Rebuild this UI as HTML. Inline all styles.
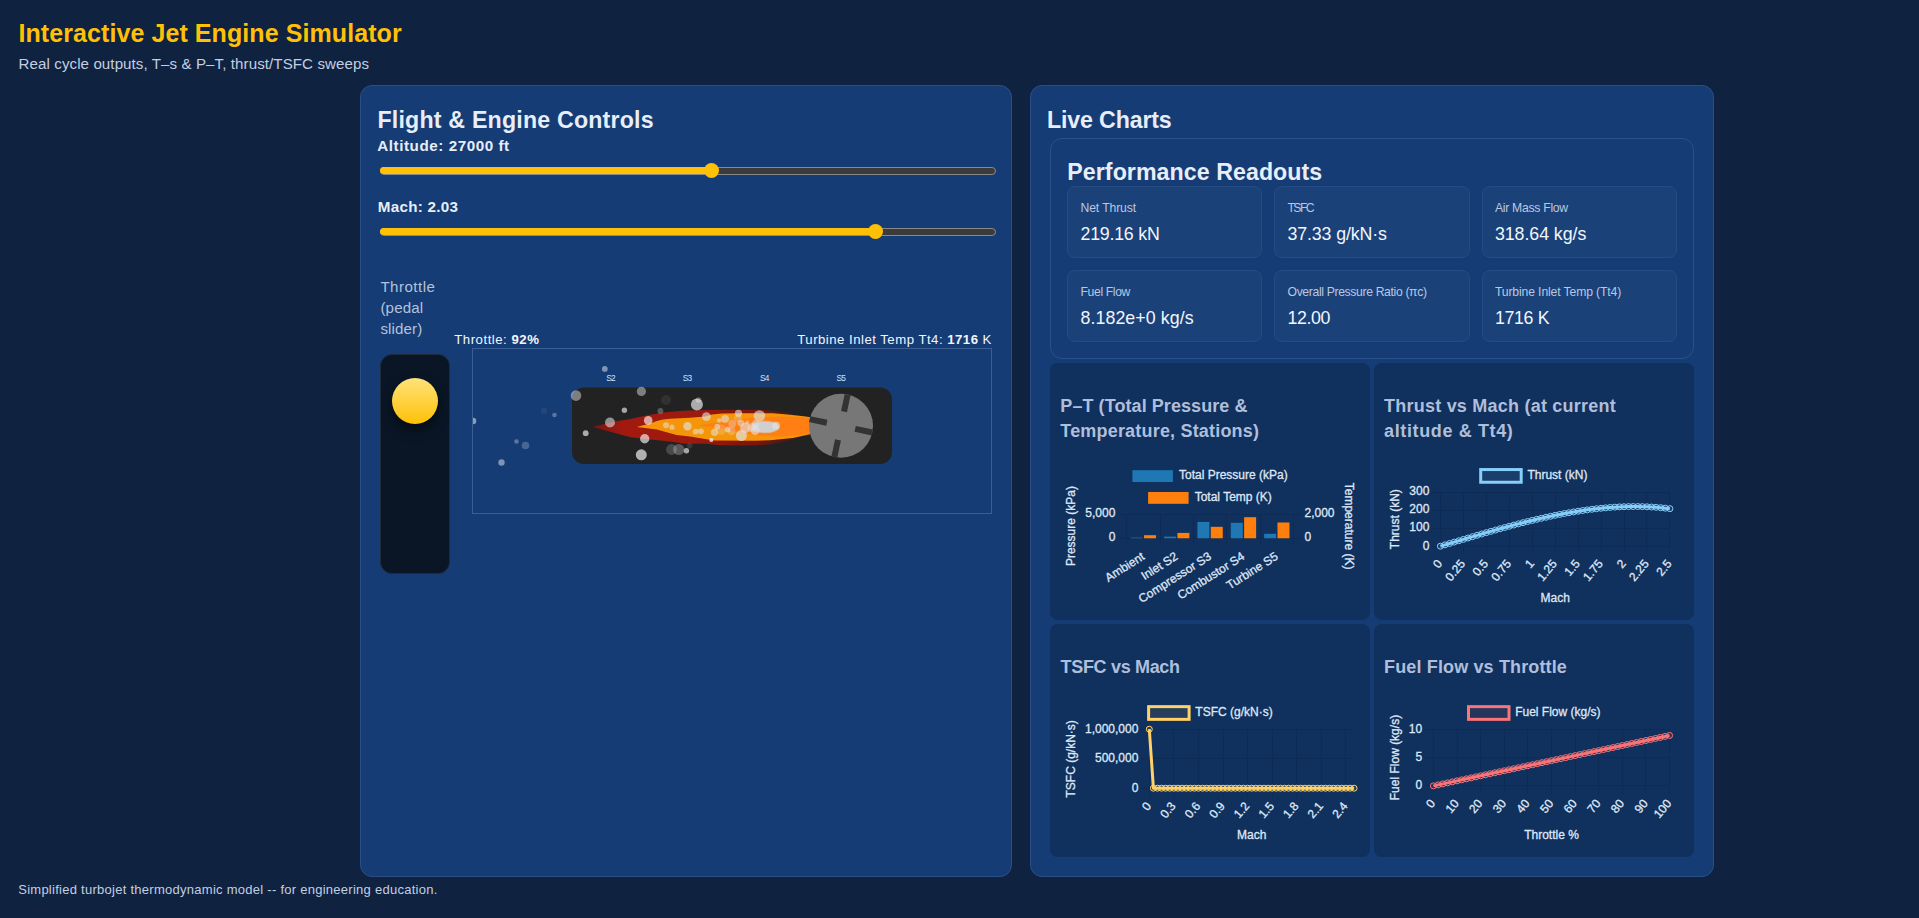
<!DOCTYPE html>
<html lang="en"><head><meta charset="utf-8"><title>Interactive Jet Engine Simulator</title>
<style>
html,body{margin:0;padding:0}
body{width:1919px;height:918px;overflow:hidden;background:#0f2240;font-family:"Liberation Sans", sans-serif;position:relative}
.b{position:absolute;box-sizing:border-box}
.t{position:absolute;white-space:nowrap;line-height:1}
.t b{font-weight:700}
.ov{position:absolute;left:0;top:0}
</style></head><body>
<div class="b" style="left:360.00px;top:85.00px;width:652.00px;height:792.00px;background:#153c75;border:1px solid #2a4f87;border-radius:12px;"></div><div class="b" style="left:1030.00px;top:85.00px;width:684.00px;height:792.00px;background:#153c75;border:1px solid #2a4f87;border-radius:12px;"></div><div class="b" style="left:1050.00px;top:137.50px;width:644.00px;height:221.00px;border:1px solid #2b5088;border-radius:12px;background:#153c75;"></div><div class="b" style="left:1067.00px;top:186.00px;width:195.33px;height:72.00px;background:#1b4179;border:1px solid #274c84;border-radius:8px;"></div><div class="b" style="left:1067.00px;top:270.00px;width:195.33px;height:72.00px;background:#1b4179;border:1px solid #274c84;border-radius:8px;"></div><div class="b" style="left:1274.33px;top:186.00px;width:195.34px;height:72.00px;background:#1b4179;border:1px solid #274c84;border-radius:8px;"></div><div class="b" style="left:1274.33px;top:270.00px;width:195.34px;height:72.00px;background:#1b4179;border:1px solid #274c84;border-radius:8px;"></div><div class="b" style="left:1481.67px;top:186.00px;width:195.33px;height:72.00px;background:#1b4179;border:1px solid #274c84;border-radius:8px;"></div><div class="b" style="left:1481.67px;top:270.00px;width:195.33px;height:72.00px;background:#1b4179;border:1px solid #274c84;border-radius:8px;"></div><div class="b" style="left:1050.00px;top:363.00px;width:319.70px;height:256.70px;background:#10305d;border-radius:8px;"></div><div class="b" style="left:1050.00px;top:624.10px;width:319.70px;height:232.70px;background:#10305d;border-radius:8px;"></div><div class="b" style="left:1374.10px;top:363.00px;width:319.80px;height:256.70px;background:#10305d;border-radius:8px;"></div><div class="b" style="left:1374.10px;top:624.10px;width:319.80px;height:232.70px;background:#10305d;border-radius:8px;"></div><div class="b" style="left:380.20px;top:166.80px;width:615.80px;height:8.00px;background:#3b3b3b;border:1px solid #8a8a8a;border-radius:4px;"></div><div class="b" style="left:380.20px;top:167.30px;width:331.40px;height:7.00px;background:#ffc107;border-radius:4px;"></div><div class="b" style="left:704.10px;top:163.30px;width:15.00px;height:15.00px;background:#ffc107;border-radius:50%;"></div><div class="b" style="left:380.20px;top:227.80px;width:615.80px;height:8.00px;background:#3b3b3b;border:1px solid #8a8a8a;border-radius:4px;"></div><div class="b" style="left:380.20px;top:228.30px;width:495.40px;height:7.00px;background:#ffc107;border-radius:4px;"></div><div class="b" style="left:868.10px;top:224.30px;width:15.00px;height:15.00px;background:#ffc107;border-radius:50%;"></div><div class="b" style="left:380.00px;top:354.00px;width:70.00px;height:220.00px;background:#0a1626;border:1px solid #202a38;border-radius:12px;"></div><div class="b" style="left:392.00px;top:378.00px;width:46.40px;height:46.40px;background:linear-gradient(#ffe27a,#ffc107);border-radius:50%;box-shadow:0 6px 12px rgba(0,0,0,.5);"></div><div class="b" style="left:472.00px;top:348.00px;width:520.00px;height:166.00px;border:1px solid #3b5f94;"></div>
<svg class="ov" width="1919" height="918" viewBox="0 0 1919 918"><rect x="572" y="387.6" width="320" height="76.4" rx="12" fill="#222"/><defs><linearGradient id="fo" x1="592" x2="800" y1="0" y2="0" gradientUnits="userSpaceOnUse"><stop offset="0" stop-color="#7a1414"/><stop offset=".15" stop-color="#a3190f"/><stop offset=".5" stop-color="#9c1a0e"/><stop offset=".78" stop-color="#7d140c"/><stop offset="1" stop-color="#3a1a18"/></linearGradient></defs><path d="M592.8,426.7 L604,424.3 L617.7,421.1 L630.8,418.9 L643.8,415.9 L663.4,412.6 L683,410.7 L705,410 L730,409.7 L755,409.7 L770,410.5 L785,412.5 L797,415 L797,438.5 L785,441.5 L767,444.8 L745,445.4 L720,445.3 L705,443.7 L683,443.4 L670,441.4 L650.4,439.4 L630.8,437.2 L604.6,430.3 Z" fill="url(#fo)"/><path d="M636.6,427 L650,423.5 L656.9,421.1 L663,419.5 L670,418.8 L690,417.8 L705,416.5 L712,414.5 L722,413.4 L740,413.2 L773,413.3 L790,414.8 L806,416.6 L810,417.2 L810,434.2 L793,438 L770,440.2 L755,440.75 L715,440.5 L705,439 L690,436.5 L676.5,434.9 L656.9,429.6 L645,428 Z" fill="#f5960a"/><path d="M697,425.4 L715,423 L734,419.8 L755,417.5 L780,416.6 L806,417.2 L810,417.5 L810,434 L806,434.2 L780,436.8 L760,435.5 L734,431.6 L715,427.2 Z" fill="#ff7f14"/><circle cx="841" cy="425.8" r="32" fill="#777"/><rect x="14.5" y="-3" width="17.5" height="6" fill="#333" transform="translate(841,425.8) rotate(12)"/><rect x="14.5" y="-3" width="17.5" height="6" fill="#333" transform="translate(841,425.8) rotate(102)"/><rect x="14.5" y="-3" width="17.5" height="6" fill="#333" transform="translate(841,425.8) rotate(192)"/><rect x="14.5" y="-3" width="17.5" height="6" fill="#333" transform="translate(841,425.8) rotate(282)"/><path d="M473,417.7 A3.3,3.3 0 0 1 473,424.3 Z" fill="#fff" fill-opacity=".5"/><circle cx="604.8" cy="368.9" r="2.9" fill="#fff" fill-opacity="0.45"/><circle cx="576" cy="395.6" r="5.3" fill="#fff" fill-opacity="0.42"/><circle cx="641.4" cy="391.4" r="4.6" fill="#fff" fill-opacity="0.42"/><circle cx="666" cy="400" r="5" fill="#fff" fill-opacity="0.07"/><circle cx="696.9" cy="404.4" r="6" fill="#fff" fill-opacity="0.62"/><circle cx="698.5" cy="400" r="2.8" fill="#fff" fill-opacity="0.3"/><circle cx="624.4" cy="410.2" r="2.7" fill="#fff" fill-opacity="0.6"/><circle cx="660.4" cy="411" r="2.9" fill="#fff" fill-opacity="0.25"/><circle cx="610" cy="422.5" r="5" fill="#fff" fill-opacity="0.5"/><circle cx="648.2" cy="420.4" r="4.3" fill="#fff" fill-opacity="0.62"/><circle cx="585.7" cy="433.2" r="2.9" fill="#fff" fill-opacity="0.62"/><circle cx="644.7" cy="438.8" r="4.7" fill="#fff" fill-opacity="0.62"/><circle cx="641.3" cy="454.8" r="5.5" fill="#fff" fill-opacity="0.65"/><circle cx="671.5" cy="449.5" r="5.4" fill="#fff" fill-opacity="0.18"/><circle cx="678.7" cy="449.5" r="5.6" fill="#fff" fill-opacity="0.25"/><circle cx="686.4" cy="450.7" r="2.7" fill="#fff" fill-opacity="0.6"/><circle cx="689.7" cy="445.6" r="2.8" fill="#fff" fill-opacity="0.1"/><circle cx="711.4" cy="440" r="2" fill="#fff" fill-opacity="0.5"/><circle cx="544" cy="411" r="3.3" fill="#fff" fill-opacity="0.06"/><circle cx="554.5" cy="415" r="2.3" fill="#fff" fill-opacity="0.3"/><circle cx="516.5" cy="441.5" r="2.3" fill="#fff" fill-opacity="0.3"/><circle cx="525.5" cy="445.5" r="3.8" fill="#fff" fill-opacity="0.22"/><circle cx="501.5" cy="462.5" r="3.2" fill="#fff" fill-opacity="0.45"/><ellipse cx="765" cy="427" rx="14.4" ry="6.3" fill="#d0cbc6" fill-opacity=".7"/><ellipse cx="765.5" cy="427" rx="12.5" ry="5.3" fill="#cfcfcf"/><circle cx="666" cy="425.3" r="3.0" fill="#e2e2e2" fill-opacity="0.53"/><circle cx="672" cy="427.2" r="2.6" fill="#e2e2e2" fill-opacity="0.53"/><circle cx="687.5" cy="426.3" r="4.2" fill="#e2e2e2" fill-opacity="0.62"/><circle cx="695.7" cy="431.6" r="2.9" fill="#e2e2e2" fill-opacity="0.56"/><circle cx="700.9" cy="431.3" r="2.9" fill="#e2e2e2" fill-opacity="0.56"/><circle cx="706.4" cy="416.6" r="4.4" fill="#e2e2e2" fill-opacity="0.62"/><circle cx="725.1" cy="418.9" r="3.9" fill="#e2e2e2" fill-opacity="0.56"/><circle cx="719.2" cy="420.5" r="2.3" fill="#e2e2e2" fill-opacity="0.56"/><circle cx="738.5" cy="413.3" r="3.6" fill="#e2e2e2" fill-opacity="0.62"/><circle cx="759.4" cy="415.9" r="5.75" fill="#e2e2e2" fill-opacity="0.62"/><circle cx="717.2" cy="426.7" r="2.9" fill="#e2e2e2" fill-opacity="0.56"/><circle cx="714.6" cy="432.3" r="3.6" fill="#e2e2e2" fill-opacity="0.56"/><circle cx="727.7" cy="429.6" r="2.9" fill="#e2e2e2" fill-opacity="0.62"/><circle cx="741.4" cy="435.5" r="5.5" fill="#e2e2e2" fill-opacity="0.69"/><circle cx="732.3" cy="423.8" r="3.9" fill="#e2e2e2" fill-opacity="0.35"/><circle cx="721" cy="429.6" r="5.2" fill="#e2e2e2" fill-opacity="0.22"/><circle cx="731.6" cy="431" r="3.9" fill="#e2e2e2" fill-opacity="0.28"/><circle cx="740.8" cy="423.1" r="3.3" fill="#e2e2e2" fill-opacity="0.50"/><circle cx="738" cy="418.5" r="4" fill="#e2e2e2" fill-opacity="0.22"/><circle cx="745.3" cy="427.7" r="5.2" fill="#e2e2e2" fill-opacity="0.62"/><circle cx="747.3" cy="422.5" r="2" fill="#e2e2e2" fill-opacity="0.50"/><circle cx="755.1" cy="430.3" r="4.6" fill="#e2e2e2" fill-opacity="0.62"/><circle cx="755.8" cy="423.8" r="3.9" fill="#e2e2e2" fill-opacity="0.50"/><circle cx="776" cy="425.7" r="3.9" fill="#e2e2e2" fill-opacity="0.62"/><circle cx="711.3" cy="440.1" r="2" fill="#e2e2e2" fill-opacity="0.62"/><circle cx="752" cy="427.5" r="4.5" fill="#e2e2e2" fill-opacity="0.50"/></svg>
<svg class="ov" width="1919" height="918" viewBox="0 0 1919 918" font-family='"Liberation Sans", sans-serif' fill="#dfe7f6"><style>text{stroke:#dfe7f6;stroke-width:.3px;paint-order:stroke}</style><g stroke="#0e2b55" stroke-width="1" shape-rendering="crispEdges"><line x1="1126.70" y1="514.30" x2="1126.70" y2="545.60"/><line x1="1160.06" y1="514.30" x2="1160.06" y2="545.60"/><line x1="1193.42" y1="514.30" x2="1193.42" y2="545.60"/><line x1="1226.78" y1="514.30" x2="1226.78" y2="545.60"/><line x1="1260.14" y1="514.30" x2="1260.14" y2="545.60"/><line x1="1293.50" y1="514.30" x2="1293.50" y2="545.60"/><line x1="1119.70" y1="514.30" x2="1300.50" y2="514.30"/><line x1="1119.70" y1="538.30" x2="1300.50" y2="538.30"/></g><rect x="1130.70" y="537.6" width="12" height="0.70" fill="#1f77b4"/><rect x="1144.05" y="535.2" width="12" height="3.10" fill="#ff7f0e"/><rect x="1164.06" y="536.6" width="12" height="1.70" fill="#1f77b4"/><rect x="1177.41" y="532.9" width="12" height="5.40" fill="#ff7f0e"/><rect x="1197.42" y="521.9" width="12" height="16.40" fill="#1f77b4"/><rect x="1210.77" y="526.8" width="12" height="11.50" fill="#ff7f0e"/><rect x="1230.78" y="522.8" width="12" height="15.50" fill="#1f77b4"/><rect x="1244.13" y="517.2" width="12" height="21.10" fill="#ff7f0e"/><rect x="1264.14" y="533.8" width="12" height="4.50" fill="#1f77b4"/><rect x="1277.49" y="522.5" width="12" height="15.80" fill="#ff7f0e"/><rect x="1132.4" y="470.2" width="40.5" height="11.8" fill="#1f77b4"/><rect x="1148.1" y="492" width="40.5" height="11.8" fill="#ff7f0e"/><text x="1179.00" y="479.10" text-anchor="start" font-size="12" >Total Pressure (kPa)</text><text x="1194.70" y="501.30" text-anchor="start" font-size="12" >Total Temp (K)</text><text x="1115.40" y="517.40" text-anchor="end" font-size="12" >5,000</text><text x="1115.40" y="541.40" text-anchor="end" font-size="12" >0</text><text x="1304.50" y="517.40" text-anchor="start" font-size="12" >2,000</text><text x="1304.50" y="541.40" text-anchor="start" font-size="12" >0</text><text transform="translate(1075.10,526.10) rotate(-90)" text-anchor="middle" font-size="12" >Pressure (kPa)</text><text transform="translate(1345.20,526.10) rotate(90)" text-anchor="middle" font-size="12" >Temperature (K)</text><text transform="translate(1145.38,558.50) rotate(-32.5)" text-anchor="end" font-size="12" >Ambient</text><text transform="translate(1178.74,558.50) rotate(-32.5)" text-anchor="end" font-size="12" >Inlet S2</text><text transform="translate(1212.10,558.50) rotate(-32.5)" text-anchor="end" font-size="12" >Compressor S3</text><text transform="translate(1245.46,558.50) rotate(-32.5)" text-anchor="end" font-size="12" >Combustor S4</text><text transform="translate(1278.82,558.50) rotate(-32.5)" text-anchor="end" font-size="12" >Turbine S5</text><g stroke="#0e2b55" stroke-width="1" shape-rendering="crispEdges"><line x1="1440.40" y1="492.10" x2="1440.40" y2="554.20"/><line x1="1463.35" y1="492.10" x2="1463.35" y2="554.20"/><line x1="1486.30" y1="492.10" x2="1486.30" y2="554.20"/><line x1="1509.25" y1="492.10" x2="1509.25" y2="554.20"/><line x1="1532.20" y1="492.10" x2="1532.20" y2="554.20"/><line x1="1555.15" y1="492.10" x2="1555.15" y2="554.20"/><line x1="1578.10" y1="492.10" x2="1578.10" y2="554.20"/><line x1="1601.05" y1="492.10" x2="1601.05" y2="554.20"/><line x1="1624.00" y1="492.10" x2="1624.00" y2="554.20"/><line x1="1646.95" y1="492.10" x2="1646.95" y2="554.20"/><line x1="1669.90" y1="492.10" x2="1669.90" y2="554.20"/><line x1="1432.40" y1="546.20" x2="1669.90" y2="546.20"/><line x1="1432.40" y1="528.17" x2="1669.90" y2="528.17"/><line x1="1432.40" y1="510.13" x2="1669.90" y2="510.13"/><line x1="1432.40" y1="492.10" x2="1669.90" y2="492.10"/></g><path d="M1440.40,546.20 L1444.99,544.84 L1449.58,543.47 L1454.17,542.10 L1458.76,540.74 L1463.35,539.38 L1467.94,538.02 L1472.53,536.66 L1477.12,535.32 L1481.71,533.98 L1486.30,532.66 L1490.89,531.35 L1495.48,530.05 L1500.07,528.77 L1504.66,527.51 L1509.25,526.27 L1513.84,525.05 L1518.43,523.85 L1523.02,522.68 L1527.61,521.53 L1532.20,520.42 L1536.79,519.33 L1541.38,518.28 L1545.97,517.26 L1550.56,516.27 L1555.15,515.32 L1559.74,514.41 L1564.33,513.54 L1568.92,512.72 L1573.51,511.93 L1578.10,511.20 L1582.69,510.51 L1587.28,509.86 L1591.87,509.27 L1596.46,508.74 L1601.05,508.25 L1605.64,507.83 L1610.23,507.46 L1614.82,507.15 L1619.41,506.90 L1624.00,506.71 L1628.59,506.59 L1633.18,506.54 L1637.77,506.55 L1642.36,506.64 L1646.95,506.79 L1651.54,507.02 L1656.13,507.32 L1660.72,507.70 L1665.31,508.16 L1669.90,508.70" fill="none" stroke="#87cefa" stroke-width="3" stroke-linejoin="round"/><g fill="rgba(135,206,250,0.09)" stroke="#87cefa" stroke-width="1"><circle cx="1440.40" cy="546.20" r="3"/><circle cx="1444.99" cy="544.84" r="3"/><circle cx="1449.58" cy="543.47" r="3"/><circle cx="1454.17" cy="542.10" r="3"/><circle cx="1458.76" cy="540.74" r="3"/><circle cx="1463.35" cy="539.38" r="3"/><circle cx="1467.94" cy="538.02" r="3"/><circle cx="1472.53" cy="536.66" r="3"/><circle cx="1477.12" cy="535.32" r="3"/><circle cx="1481.71" cy="533.98" r="3"/><circle cx="1486.30" cy="532.66" r="3"/><circle cx="1490.89" cy="531.35" r="3"/><circle cx="1495.48" cy="530.05" r="3"/><circle cx="1500.07" cy="528.77" r="3"/><circle cx="1504.66" cy="527.51" r="3"/><circle cx="1509.25" cy="526.27" r="3"/><circle cx="1513.84" cy="525.05" r="3"/><circle cx="1518.43" cy="523.85" r="3"/><circle cx="1523.02" cy="522.68" r="3"/><circle cx="1527.61" cy="521.53" r="3"/><circle cx="1532.20" cy="520.42" r="3"/><circle cx="1536.79" cy="519.33" r="3"/><circle cx="1541.38" cy="518.28" r="3"/><circle cx="1545.97" cy="517.26" r="3"/><circle cx="1550.56" cy="516.27" r="3"/><circle cx="1555.15" cy="515.32" r="3"/><circle cx="1559.74" cy="514.41" r="3"/><circle cx="1564.33" cy="513.54" r="3"/><circle cx="1568.92" cy="512.72" r="3"/><circle cx="1573.51" cy="511.93" r="3"/><circle cx="1578.10" cy="511.20" r="3"/><circle cx="1582.69" cy="510.51" r="3"/><circle cx="1587.28" cy="509.86" r="3"/><circle cx="1591.87" cy="509.27" r="3"/><circle cx="1596.46" cy="508.74" r="3"/><circle cx="1601.05" cy="508.25" r="3"/><circle cx="1605.64" cy="507.83" r="3"/><circle cx="1610.23" cy="507.46" r="3"/><circle cx="1614.82" cy="507.15" r="3"/><circle cx="1619.41" cy="506.90" r="3"/><circle cx="1624.00" cy="506.71" r="3"/><circle cx="1628.59" cy="506.59" r="3"/><circle cx="1633.18" cy="506.54" r="3"/><circle cx="1637.77" cy="506.55" r="3"/><circle cx="1642.36" cy="506.64" r="3"/><circle cx="1646.95" cy="506.79" r="3"/><circle cx="1651.54" cy="507.02" r="3"/><circle cx="1656.13" cy="507.32" r="3"/><circle cx="1660.72" cy="507.70" r="3"/><circle cx="1665.31" cy="508.16" r="3"/><circle cx="1669.90" cy="508.70" r="3"/></g><rect x="1480.70" y="469.55" width="40.5" height="12.7" fill="rgba(135,206,250,0.09)" stroke="#87cefa" stroke-width="3"/><text x="1527.40" y="479.00" text-anchor="start" font-size="12" >Thrust (kN)</text><text x="1429.40" y="549.50" text-anchor="end" font-size="12" >0</text><text x="1429.40" y="531.47" text-anchor="end" font-size="12" >100</text><text x="1429.40" y="513.43" text-anchor="end" font-size="12" >200</text><text x="1429.40" y="495.40" text-anchor="end" font-size="12" >300</text><text transform="translate(1442.90,564.00) rotate(-50)" text-anchor="end" font-size="12" >0</text><text transform="translate(1465.85,564.00) rotate(-50)" text-anchor="end" font-size="12" >0.25</text><text transform="translate(1488.80,564.00) rotate(-50)" text-anchor="end" font-size="12" >0.5</text><text transform="translate(1511.75,564.00) rotate(-50)" text-anchor="end" font-size="12" >0.75</text><text transform="translate(1534.70,564.00) rotate(-50)" text-anchor="end" font-size="12" >1</text><text transform="translate(1557.65,564.00) rotate(-50)" text-anchor="end" font-size="12" >1.25</text><text transform="translate(1580.60,564.00) rotate(-50)" text-anchor="end" font-size="12" >1.5</text><text transform="translate(1603.55,564.00) rotate(-50)" text-anchor="end" font-size="12" >1.75</text><text transform="translate(1626.50,564.00) rotate(-50)" text-anchor="end" font-size="12" >2</text><text transform="translate(1649.45,564.00) rotate(-50)" text-anchor="end" font-size="12" >2.25</text><text transform="translate(1672.40,564.00) rotate(-50)" text-anchor="end" font-size="12" >2.5</text><text transform="translate(1398.70,519.15) rotate(-90)" text-anchor="middle" font-size="12" >Thrust (kN)</text><text x="1555.15" y="601.80" text-anchor="middle" font-size="12" >Mach</text><g stroke="#0e2b55" stroke-width="1" shape-rendering="crispEdges"><line x1="1149.30" y1="729.20" x2="1149.30" y2="796.50"/><line x1="1173.88" y1="729.20" x2="1173.88" y2="796.50"/><line x1="1198.45" y1="729.20" x2="1198.45" y2="796.50"/><line x1="1223.03" y1="729.20" x2="1223.03" y2="796.50"/><line x1="1247.60" y1="729.20" x2="1247.60" y2="796.50"/><line x1="1272.18" y1="729.20" x2="1272.18" y2="796.50"/><line x1="1296.76" y1="729.20" x2="1296.76" y2="796.50"/><line x1="1321.33" y1="729.20" x2="1321.33" y2="796.50"/><line x1="1345.91" y1="729.20" x2="1345.91" y2="796.50"/><line x1="1141.30" y1="788.50" x2="1354.10" y2="788.50"/><line x1="1141.30" y1="758.85" x2="1354.10" y2="758.85"/><line x1="1141.30" y1="729.20" x2="1354.10" y2="729.20"/></g><path d="M1149.30,729.20 L1153.40,788.20 L1157.49,788.20 L1161.59,788.20 L1165.68,788.20 L1169.78,788.20 L1173.88,788.20 L1177.97,788.20 L1182.07,788.20 L1186.16,788.20 L1190.26,788.20 L1194.36,788.20 L1198.45,788.20 L1202.55,788.20 L1206.64,788.20 L1210.74,788.20 L1214.84,788.20 L1218.93,788.20 L1223.03,788.20 L1227.12,788.20 L1231.22,788.20 L1235.32,788.20 L1239.41,788.20 L1243.51,788.20 L1247.60,788.20 L1251.70,788.20 L1255.80,788.20 L1259.89,788.20 L1263.99,788.20 L1268.08,788.20 L1272.18,788.20 L1276.28,788.20 L1280.37,788.20 L1284.47,788.20 L1288.56,788.20 L1292.66,788.20 L1296.76,788.20 L1300.85,788.20 L1304.95,788.20 L1309.04,788.20 L1313.14,788.20 L1317.24,788.20 L1321.33,788.20 L1325.43,788.20 L1329.52,788.20 L1333.62,788.20 L1337.72,788.20 L1341.81,788.20 L1345.91,788.20 L1350.00,788.20 L1354.10,788.20" fill="none" stroke="#ffd166" stroke-width="3" stroke-linejoin="round"/><g fill="rgba(255,209,102,0.09)" stroke="#ffd166" stroke-width="1"><circle cx="1149.30" cy="729.20" r="3"/><circle cx="1153.40" cy="788.20" r="3"/><circle cx="1157.49" cy="788.20" r="3"/><circle cx="1161.59" cy="788.20" r="3"/><circle cx="1165.68" cy="788.20" r="3"/><circle cx="1169.78" cy="788.20" r="3"/><circle cx="1173.88" cy="788.20" r="3"/><circle cx="1177.97" cy="788.20" r="3"/><circle cx="1182.07" cy="788.20" r="3"/><circle cx="1186.16" cy="788.20" r="3"/><circle cx="1190.26" cy="788.20" r="3"/><circle cx="1194.36" cy="788.20" r="3"/><circle cx="1198.45" cy="788.20" r="3"/><circle cx="1202.55" cy="788.20" r="3"/><circle cx="1206.64" cy="788.20" r="3"/><circle cx="1210.74" cy="788.20" r="3"/><circle cx="1214.84" cy="788.20" r="3"/><circle cx="1218.93" cy="788.20" r="3"/><circle cx="1223.03" cy="788.20" r="3"/><circle cx="1227.12" cy="788.20" r="3"/><circle cx="1231.22" cy="788.20" r="3"/><circle cx="1235.32" cy="788.20" r="3"/><circle cx="1239.41" cy="788.20" r="3"/><circle cx="1243.51" cy="788.20" r="3"/><circle cx="1247.60" cy="788.20" r="3"/><circle cx="1251.70" cy="788.20" r="3"/><circle cx="1255.80" cy="788.20" r="3"/><circle cx="1259.89" cy="788.20" r="3"/><circle cx="1263.99" cy="788.20" r="3"/><circle cx="1268.08" cy="788.20" r="3"/><circle cx="1272.18" cy="788.20" r="3"/><circle cx="1276.28" cy="788.20" r="3"/><circle cx="1280.37" cy="788.20" r="3"/><circle cx="1284.47" cy="788.20" r="3"/><circle cx="1288.56" cy="788.20" r="3"/><circle cx="1292.66" cy="788.20" r="3"/><circle cx="1296.76" cy="788.20" r="3"/><circle cx="1300.85" cy="788.20" r="3"/><circle cx="1304.95" cy="788.20" r="3"/><circle cx="1309.04" cy="788.20" r="3"/><circle cx="1313.14" cy="788.20" r="3"/><circle cx="1317.24" cy="788.20" r="3"/><circle cx="1321.33" cy="788.20" r="3"/><circle cx="1325.43" cy="788.20" r="3"/><circle cx="1329.52" cy="788.20" r="3"/><circle cx="1333.62" cy="788.20" r="3"/><circle cx="1337.72" cy="788.20" r="3"/><circle cx="1341.81" cy="788.20" r="3"/><circle cx="1345.91" cy="788.20" r="3"/><circle cx="1350.00" cy="788.20" r="3"/><circle cx="1354.10" cy="788.20" r="3"/></g><rect x="1148.60" y="706.65" width="40.5" height="12.7" fill="rgba(255,209,102,0.09)" stroke="#ffd166" stroke-width="3"/><text x="1195.30" y="716.10" text-anchor="start" font-size="12" >TSFC (g/kN·s)</text><text x="1138.40" y="791.80" text-anchor="end" font-size="12" >0</text><text x="1138.40" y="762.15" text-anchor="end" font-size="12" >500,000</text><text x="1138.40" y="732.50" text-anchor="end" font-size="12" >1,000,000</text><text transform="translate(1151.80,806.30) rotate(-50)" text-anchor="end" font-size="12" >0</text><text transform="translate(1176.38,806.30) rotate(-50)" text-anchor="end" font-size="12" >0.3</text><text transform="translate(1200.95,806.30) rotate(-50)" text-anchor="end" font-size="12" >0.6</text><text transform="translate(1225.53,806.30) rotate(-50)" text-anchor="end" font-size="12" >0.9</text><text transform="translate(1250.10,806.30) rotate(-50)" text-anchor="end" font-size="12" >1.2</text><text transform="translate(1274.68,806.30) rotate(-50)" text-anchor="end" font-size="12" >1.5</text><text transform="translate(1299.26,806.30) rotate(-50)" text-anchor="end" font-size="12" >1.8</text><text transform="translate(1323.83,806.30) rotate(-50)" text-anchor="end" font-size="12" >2.1</text><text transform="translate(1348.41,806.30) rotate(-50)" text-anchor="end" font-size="12" >2.4</text><text transform="translate(1074.80,758.85) rotate(-90)" text-anchor="middle" font-size="12" >TSFC (g/kN·s)</text><text x="1251.70" y="838.90" text-anchor="middle" font-size="12" >Mach</text><g stroke="#0e2b55" stroke-width="1" shape-rendering="crispEdges"><line x1="1433.40" y1="729.20" x2="1433.40" y2="793.90"/><line x1="1457.02" y1="729.20" x2="1457.02" y2="793.90"/><line x1="1480.64" y1="729.20" x2="1480.64" y2="793.90"/><line x1="1504.26" y1="729.20" x2="1504.26" y2="793.90"/><line x1="1527.88" y1="729.20" x2="1527.88" y2="793.90"/><line x1="1551.50" y1="729.20" x2="1551.50" y2="793.90"/><line x1="1575.12" y1="729.20" x2="1575.12" y2="793.90"/><line x1="1598.74" y1="729.20" x2="1598.74" y2="793.90"/><line x1="1622.36" y1="729.20" x2="1622.36" y2="793.90"/><line x1="1645.98" y1="729.20" x2="1645.98" y2="793.90"/><line x1="1669.60" y1="729.20" x2="1669.60" y2="793.90"/><line x1="1425.40" y1="785.90" x2="1669.60" y2="785.90"/><line x1="1425.40" y1="757.55" x2="1669.60" y2="757.55"/><line x1="1425.40" y1="729.20" x2="1669.60" y2="729.20"/></g><path d="M1433.40,785.90 L1438.12,784.89 L1442.85,783.88 L1447.57,782.87 L1452.30,781.86 L1457.02,780.85 L1461.74,779.84 L1466.47,778.84 L1471.19,777.83 L1475.92,776.82 L1480.64,775.81 L1485.36,774.80 L1490.09,773.79 L1494.81,772.78 L1499.54,771.77 L1504.26,770.76 L1508.98,769.75 L1513.71,768.74 L1518.43,767.73 L1523.16,766.72 L1527.88,765.71 L1532.60,764.71 L1537.33,763.70 L1542.05,762.69 L1546.78,761.68 L1551.50,760.67 L1556.22,759.66 L1560.95,758.65 L1565.67,757.64 L1570.40,756.63 L1575.12,755.62 L1579.84,754.61 L1584.57,753.60 L1589.29,752.59 L1594.02,751.59 L1598.74,750.58 L1603.46,749.57 L1608.19,748.56 L1612.91,747.55 L1617.64,746.54 L1622.36,745.53 L1627.08,744.52 L1631.81,743.51 L1636.53,742.50 L1641.26,741.49 L1645.98,740.48 L1650.70,739.47 L1655.43,738.46 L1660.15,737.46 L1664.88,736.45 L1669.60,735.44" fill="none" stroke="#fb7476" stroke-width="3" stroke-linejoin="round"/><g fill="rgba(255,107,107,0.09)" stroke="#fb7476" stroke-width="1"><circle cx="1433.40" cy="785.90" r="3"/><circle cx="1438.12" cy="784.89" r="3"/><circle cx="1442.85" cy="783.88" r="3"/><circle cx="1447.57" cy="782.87" r="3"/><circle cx="1452.30" cy="781.86" r="3"/><circle cx="1457.02" cy="780.85" r="3"/><circle cx="1461.74" cy="779.84" r="3"/><circle cx="1466.47" cy="778.84" r="3"/><circle cx="1471.19" cy="777.83" r="3"/><circle cx="1475.92" cy="776.82" r="3"/><circle cx="1480.64" cy="775.81" r="3"/><circle cx="1485.36" cy="774.80" r="3"/><circle cx="1490.09" cy="773.79" r="3"/><circle cx="1494.81" cy="772.78" r="3"/><circle cx="1499.54" cy="771.77" r="3"/><circle cx="1504.26" cy="770.76" r="3"/><circle cx="1508.98" cy="769.75" r="3"/><circle cx="1513.71" cy="768.74" r="3"/><circle cx="1518.43" cy="767.73" r="3"/><circle cx="1523.16" cy="766.72" r="3"/><circle cx="1527.88" cy="765.71" r="3"/><circle cx="1532.60" cy="764.71" r="3"/><circle cx="1537.33" cy="763.70" r="3"/><circle cx="1542.05" cy="762.69" r="3"/><circle cx="1546.78" cy="761.68" r="3"/><circle cx="1551.50" cy="760.67" r="3"/><circle cx="1556.22" cy="759.66" r="3"/><circle cx="1560.95" cy="758.65" r="3"/><circle cx="1565.67" cy="757.64" r="3"/><circle cx="1570.40" cy="756.63" r="3"/><circle cx="1575.12" cy="755.62" r="3"/><circle cx="1579.84" cy="754.61" r="3"/><circle cx="1584.57" cy="753.60" r="3"/><circle cx="1589.29" cy="752.59" r="3"/><circle cx="1594.02" cy="751.59" r="3"/><circle cx="1598.74" cy="750.58" r="3"/><circle cx="1603.46" cy="749.57" r="3"/><circle cx="1608.19" cy="748.56" r="3"/><circle cx="1612.91" cy="747.55" r="3"/><circle cx="1617.64" cy="746.54" r="3"/><circle cx="1622.36" cy="745.53" r="3"/><circle cx="1627.08" cy="744.52" r="3"/><circle cx="1631.81" cy="743.51" r="3"/><circle cx="1636.53" cy="742.50" r="3"/><circle cx="1641.26" cy="741.49" r="3"/><circle cx="1645.98" cy="740.48" r="3"/><circle cx="1650.70" cy="739.47" r="3"/><circle cx="1655.43" cy="738.46" r="3"/><circle cx="1660.15" cy="737.46" r="3"/><circle cx="1664.88" cy="736.45" r="3"/><circle cx="1669.60" cy="735.44" r="3"/></g><rect x="1468.50" y="706.65" width="40.5" height="12.7" fill="rgba(255,107,107,0.09)" stroke="#fb7476" stroke-width="3"/><text x="1515.20" y="716.10" text-anchor="start" font-size="12" >Fuel Flow (kg/s)</text><text x="1422.10" y="789.20" text-anchor="end" font-size="12" >0</text><text x="1422.10" y="760.85" text-anchor="end" font-size="12" >5</text><text x="1422.10" y="732.50" text-anchor="end" font-size="12" >10</text><text transform="translate(1435.90,803.70) rotate(-50)" text-anchor="end" font-size="12" >0</text><text transform="translate(1459.52,803.70) rotate(-50)" text-anchor="end" font-size="12" >10</text><text transform="translate(1483.14,803.70) rotate(-50)" text-anchor="end" font-size="12" >20</text><text transform="translate(1506.76,803.70) rotate(-50)" text-anchor="end" font-size="12" >30</text><text transform="translate(1530.38,803.70) rotate(-50)" text-anchor="end" font-size="12" >40</text><text transform="translate(1554.00,803.70) rotate(-50)" text-anchor="end" font-size="12" >50</text><text transform="translate(1577.62,803.70) rotate(-50)" text-anchor="end" font-size="12" >60</text><text transform="translate(1601.24,803.70) rotate(-50)" text-anchor="end" font-size="12" >70</text><text transform="translate(1624.86,803.70) rotate(-50)" text-anchor="end" font-size="12" >80</text><text transform="translate(1648.48,803.70) rotate(-50)" text-anchor="end" font-size="12" >90</text><text transform="translate(1672.10,803.70) rotate(-50)" text-anchor="end" font-size="12" >100</text><text transform="translate(1399.20,757.55) rotate(-90)" text-anchor="middle" font-size="12" >Fuel Flow (kg/s)</text><text x="1551.50" y="838.90" text-anchor="middle" font-size="12" >Throttle %</text></svg>
<div class="t" id="h1" style="left:18.40px;top:21.00px;font-size:25.0px;font-weight:700;color:#ffc107;letter-spacing:0.085px">Interactive Jet Engine Simulator</div>
<div class="t" id="sub" style="left:18.60px;top:56.00px;font-size:15.1px;font-weight:400;color:#c3cfe2;letter-spacing:0.088px">Real cycle outputs, T–s &amp; P–T, thrust/TSFC sweeps</div>
<div class="t" id="foot" style="left:18.20px;top:883.00px;font-size:13.0px;font-weight:400;color:#c3cfe2;letter-spacing:0.267px">Simplified turbojet thermodynamic model -- for engineering education.</div>
<div class="t" id="h2a" style="left:377.50px;top:109.00px;font-size:23.2px;font-weight:700;color:#e8eef8;letter-spacing:0.188px">Flight &amp; Engine Controls</div>
<div class="t" id="alt" style="left:377.30px;top:138.00px;font-size:15.2px;font-weight:700;color:#e8eef8;letter-spacing:0.556px">Altitude: <b>27000 ft</b></div>
<div class="t" id="mach" style="left:377.80px;top:199.00px;font-size:15.2px;font-weight:700;color:#e8eef8;letter-spacing:0.283px">Mach: <b>2.03</b></div>
<div class="t" id="thl1" style="left:380.40px;top:279.00px;font-size:15.1px;font-weight:400;color:#b4c2da;letter-spacing:0.479px">Throttle</div>
<div class="t" id="thl2" style="left:380.40px;top:300.00px;font-size:15.1px;font-weight:400;color:#b4c2da;letter-spacing:0.172px">(pedal</div>
<div class="t" id="thl3" style="left:380.40px;top:321.00px;font-size:15.1px;font-weight:400;color:#b4c2da;letter-spacing:0.127px">slider)</div>
<div class="t" id="thr" style="left:454.30px;top:333.00px;font-size:13.2px;font-weight:400;color:#f2f6fc;letter-spacing:0.511px">Throttle: <b>92%</b></div>
<div class="t" id="tt4" style="left:797.30px;top:333.00px;font-size:13.2px;font-weight:400;color:#f2f6fc;letter-spacing:0.483px">Turbine Inlet Temp Tt4: <b>1716</b> K</div>
<div class="t" id="h2b" style="left:1047.00px;top:109.00px;font-size:23.2px;font-weight:700;color:#e8eef8;letter-spacing:-0.154px">Live Charts</div>
<div class="t" id="h2c" style="left:1067.30px;top:161.00px;font-size:23.2px;font-weight:700;color:#e8eef8;letter-spacing:0.057px">Performance Readouts</div>
<div class="t" id="rl00" style="left:1080.50px;top:202.00px;font-size:12.2px;font-weight:400;color:#b9c8e0;letter-spacing:-0.117px">Net Thrust</div>
<div class="t" id="rv00" style="left:1080.50px;top:226.00px;font-size:17.8px;font-weight:400;color:#f2f6fc;letter-spacing:-0.229px">219.16 kN</div>
<div class="t" id="rl01" style="left:1287.50px;top:202.00px;font-size:12.2px;font-weight:400;color:#b9c8e0;letter-spacing:-1.582px">TSFC</div>
<div class="t" id="rv01" style="left:1287.50px;top:226.00px;font-size:17.8px;font-weight:400;color:#f2f6fc;letter-spacing:-0.134px">37.33 g/kN·s</div>
<div class="t" id="rl02" style="left:1494.90px;top:202.00px;font-size:12.2px;font-weight:400;color:#b9c8e0;letter-spacing:-0.272px">Air Mass Flow</div>
<div class="t" id="rv02" style="left:1494.90px;top:226.00px;font-size:17.8px;font-weight:400;color:#f2f6fc;letter-spacing:-0.049px">318.64 kg/s</div>
<div class="t" id="rl10" style="left:1080.50px;top:286.00px;font-size:12.2px;font-weight:400;color:#b9c8e0;letter-spacing:-0.370px">Fuel Flow</div>
<div class="t" id="rv10" style="left:1080.50px;top:310.00px;font-size:17.8px;font-weight:400;color:#f2f6fc;letter-spacing:0.068px">8.182e+0 kg/s</div>
<div class="t" id="rl11" style="left:1287.50px;top:286.00px;font-size:12.2px;font-weight:400;color:#b9c8e0;letter-spacing:-0.352px">Overall Pressure Ratio (πc)</div>
<div class="t" id="rv11" style="left:1287.50px;top:310.00px;font-size:17.8px;font-weight:400;color:#f2f6fc;letter-spacing:-0.420px">12.00</div>
<div class="t" id="rl12" style="left:1494.90px;top:286.00px;font-size:12.2px;font-weight:400;color:#b9c8e0;letter-spacing:-0.128px">Turbine Inlet Temp (Tt4)</div>
<div class="t" id="rv12" style="left:1494.90px;top:310.00px;font-size:17.8px;font-weight:400;color:#f2f6fc;letter-spacing:-0.343px">1716 K</div>
<div class="t" id="c1a" style="left:1060.30px;top:397.00px;font-size:18.0px;font-weight:700;color:#afbfdb;letter-spacing:0.075px">P–T (Total Pressure &amp;</div>
<div class="t" id="c1b" style="left:1060.30px;top:422.00px;font-size:18.0px;font-weight:700;color:#afbfdb;letter-spacing:0.190px">Temperature, Stations)</div>
<div class="t" id="c2a" style="left:1384.10px;top:397.00px;font-size:18.0px;font-weight:700;color:#afbfdb;letter-spacing:0.221px">Thrust vs Mach (at current</div>
<div class="t" id="c2b" style="left:1384.10px;top:422.00px;font-size:18.0px;font-weight:700;color:#afbfdb;letter-spacing:0.627px">altitude &amp; Tt4)</div>
<div class="t" id="c3a" style="left:1060.60px;top:658.00px;font-size:18.0px;font-weight:700;color:#afbfdb;letter-spacing:-0.328px">TSFC vs Mach</div>
<div class="t" id="c4a" style="left:1384.10px;top:658.00px;font-size:18.0px;font-weight:700;color:#afbfdb;letter-spacing:0.137px">Fuel Flow vs Throttle</div>
<div class="t" id="s0" style="left:606.30px;top:374.00px;font-size:8.3px;font-weight:400;color:#d5e2f7;letter-spacing:-0.778px">S2</div>
<div class="t" id="s1" style="left:682.70px;top:374.00px;font-size:8.3px;font-weight:400;color:#d5e2f7;letter-spacing:-0.778px">S3</div>
<div class="t" id="s2" style="left:759.90px;top:374.00px;font-size:8.3px;font-weight:400;color:#d5e2f7;letter-spacing:-0.778px">S4</div>
<div class="t" id="s3" style="left:836.60px;top:374.00px;font-size:8.3px;font-weight:400;color:#d5e2f7;letter-spacing:-0.778px">S5</div>
</body></html>
